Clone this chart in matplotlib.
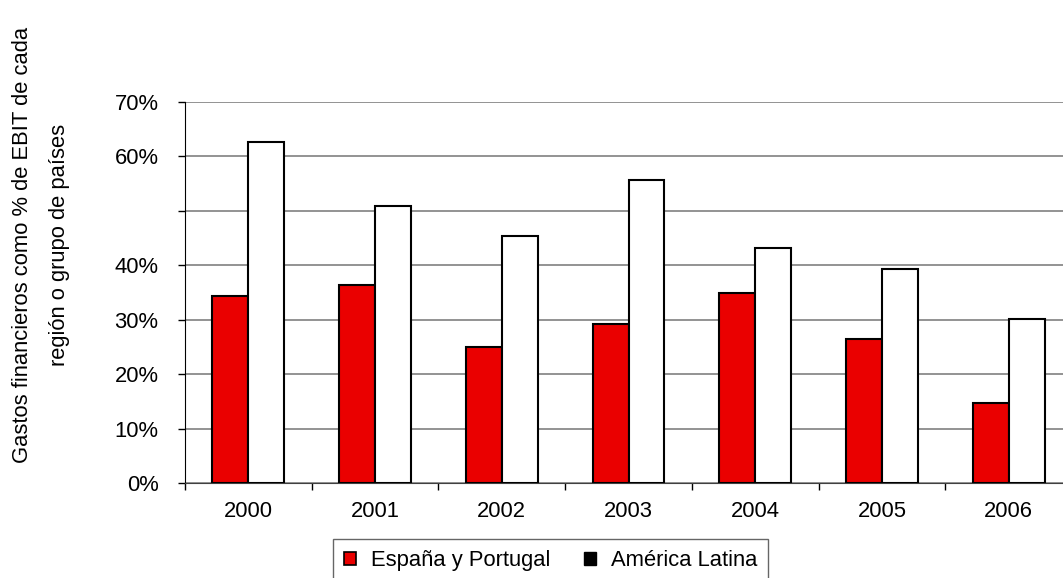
import matplotlib
matplotlib.use("Agg")
import matplotlib.pyplot as plt
from matplotlib.patches import Patch
import numpy as np

years = ["2000", "2001", "2002", "2003", "2004", "2005", "2006"]
espana_portugal = [34.4, 36.4, 25.0, 29.2, 35.0, 26.5, 14.7]
america_latina = [62.7, 50.9, 45.3, 55.6, 43.1, 39.3, 30.2]
yticks = [0, 10, 20, 30, 40, 50, 60, 70]
ytick_labels = ["0%", "10%", "20%", "30%", "40%", "", "60%", "70%"]

plt.rcParams["font.family"] = ["Liberation Sans", "DejaVu Sans"]
fs = 15.8

fig = plt.figure(figsize=(10.63, 5.78), dpi=100)
ax = fig.add_axes([185 / 1063, 1 - 483 / 578, (1072 - 185) / 1063, (483 - 102) / 578])

x = np.arange(len(years))
w = 0.284
ax.bar(x - w / 2, espana_portugal, w, color="#EA0000", edgecolor="black", linewidth=1.5, zorder=3)
ax.bar(x + w / 2, america_latina, w, color="white", edgecolor="black", linewidth=1.5, zorder=3)

ax.set_xlim(-0.5, len(years) - 0.5)
ax.set_ylim(0, 70)
ax.set_yticks(yticks)
ax.set_yticklabels(ytick_labels, fontsize=fs)
ax.set_xticks(x)
ax.set_xticklabels(years, fontsize=fs)
ax.tick_params(axis="x", which="major", length=0, pad=13)
# ticks between the categories
ax.set_xticks(np.arange(len(years) + 1) - 0.5, minor=True)
ax.tick_params(axis="x", which="minor", length=5, width=1, direction="out")
ax.tick_params(axis="y", length=5, width=1, pad=14)

ax.yaxis.grid(True, color="#808080", linewidth=1.2, zorder=0)
ax.set_axisbelow(True)
for s in ["top", "right"]:
    ax.spines[s].set_visible(False)
ax.spines["left"].set_color("black")
ax.spines["bottom"].set_color("#404040")

fig.text(41 / 1063, 1 - 245 / 578,
         "Gastos financieros como % de EBIT de cada\nregión o grupo de países",
         rotation=90, ha="center", va="center", fontsize=fs, linespacing=2.0)

handles = [Patch(facecolor="#EA0000", edgecolor="black", linewidth=1.2),
           Patch(facecolor="black", edgecolor="black")]
leg = fig.legend(handles, ["España y Portugal", "América Latina"],
                 loc="upper left", bbox_to_anchor=(333 / 1063, 1 - 539 / 578),
                 ncol=2, fontsize=fs, frameon=True, fancybox=False,
                 handlelength=0.55, handleheight=0.55, handletextpad=0.7,
                 columnspacing=1.5, borderpad=0.5, borderaxespad=0)
leg.get_frame().set_edgecolor("#404040")
leg.get_frame().set_linewidth(1)

fig.savefig("out.png", dpi=100)
